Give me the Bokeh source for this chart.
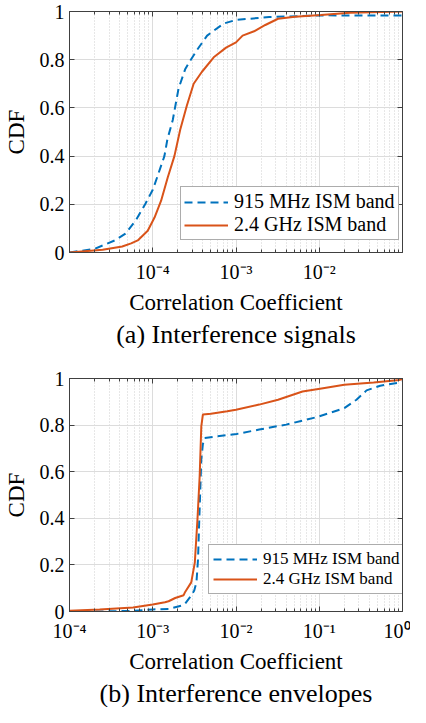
from bokeh.plotting import figure
from bokeh.layouts import column
from bokeh.models import (Range1d, FixedTicker, LinearAxis, LogAxis, Legend,
                          LegendItem, Title, CustomJSTickFormatter)
from bokeh.embed import file_html
from bokeh.resources import INLINE

# ---------------- data: (a) interference signals ----------------
sig_x_915 = [1e-5, 2.0e-5, 3.5e-5, 4.7e-5, 6.3e-5, 8.1e-5, 1.0e-4, 1.15e-4, 1.38e-4,
             1.5e-4, 1.74e-4, 2.04e-4, 2.45e-4, 2.75e-4, 3.4e-4, 4.5e-4, 7.1e-4,
             1.0e-3, 2.5e-3, 1.15e-2, 1e-1]
sig_cdf_915 = [0.0, 0.015, 0.05, 0.078, 0.135, 0.20, 0.26, 0.32, 0.40,
               0.47, 0.55, 0.68, 0.76, 0.79, 0.84, 0.90, 0.95,
               0.965, 0.977, 0.984, 0.983]
sig_x_24 = [1e-5, 2.5e-5, 4.3e-5, 5.5e-5, 6.6e-5, 8.7e-5, 1.05e-4, 1.26e-4, 1.51e-4,
            1.82e-4, 2.14e-4, 2.57e-4, 3.1e-4, 3.9e-4, 5.4e-4, 7.6e-4, 1.0e-3,
            1.2e-3, 1.65e-3, 2.25e-3, 3.2e-3, 5.1e-3, 1.05e-2, 2.35e-2, 1e-1]
sig_cdf_24 = [0.0, 0.011, 0.025, 0.038, 0.05, 0.09, 0.145, 0.215, 0.31,
              0.40, 0.51, 0.61, 0.70, 0.75, 0.81, 0.85, 0.872,
              0.90, 0.918, 0.944, 0.97, 0.978, 0.985, 0.995, 1.0]

# ---------------- data: (b) interference envelopes ----------------
env_x_915 = [1e-4, 2.3e-4, 5.8e-4, 1.0e-3, 1.55e-3, 2.25e-3, 2.45e-3, 2.9e-3, 3.15e-3,
             3.35e-3, 3.5e-3, 3.6e-3, 3.83e-3, 4.0e-3, 4.2e-3, 6.0e-3, 1.02e-2,
             1.9e-2, 4.0e-2, 9.5e-2, 2.0e-1, 2.8e-1, 3.7e-1, 5.4e-1, 1.0]
env_cdf_915 = [0.0, 0.0, 0.003, 0.009, 0.011, 0.026, 0.034, 0.068, 0.09,
               0.125, 0.226, 0.367, 0.652, 0.718, 0.745, 0.752, 0.762,
               0.781, 0.802, 0.835, 0.873, 0.909, 0.949, 0.969, 0.984]
env_x_24 = [1e-4, 2.3e-4, 5.8e-4, 1.0e-3, 1.4e-3, 1.55e-3, 1.86e-3, 2.35e-3, 2.45e-3,
            2.9e-3, 3.2e-3, 3.45e-3, 3.66e-3, 3.83e-3, 4.0e-3, 5.0e-3, 7.85e-3,
            1.0e-2, 1.9e-2, 3.2e-2, 6.3e-2, 1.02e-1, 2.0e-1, 4.5e-1, 9.2e-1, 1.0]
env_cdf_24 = [0.003, 0.009, 0.017, 0.03, 0.04, 0.044, 0.058, 0.07, 0.084,
              0.125, 0.21, 0.40, 0.58, 0.795, 0.845, 0.849, 0.859,
              0.866, 0.888, 0.909, 0.944, 0.956, 0.973, 0.983, 0.994, 0.997]

# ---------------- ticks ----------------
xticks_a = [1e-4, 1e-3, 1e-2]
xlabels_a = ["10\u207b\u2074", "10\u207b\u00b3", "10\u207b\u00b2"]
xticks_b = [1e-4, 1e-3, 1e-2, 1e-1, 1e0]
xlabels_b = ["10\u207b\u2074", "10\u207b\u00b3", "10\u207b\u00b2", "10\u207b\u00b9", "10\u2070"]
yticks = [0, 0.2, 0.4, 0.6, 0.8, 1]
ylabels = ["0", "0.2", "0.4", "0.6", "0.8", "1"]

BLUE = "#0072BD"
ORANGE = "#D95319"
AX = "#404040"
FONT = "Liberation Serif"


def minor_list(lo_exp, hi_exp):
    return [m * 10.0 ** e for e in range(lo_exp, hi_exp) for m in range(2, 10)]


def make_panel(xr, xticks, xlabels, minors, x915, c915, x24, c24, caption,
               height, top_border, legend_loc, legend_font, legend_pad):
    p = figure(width=410, height=height, x_axis_type="log",
               x_range=Range1d(*xr), y_range=Range1d(0, 1),
               output_backend="svg", toolbar_location=None,
               min_border_left=62, min_border_right=8, min_border_top=top_border,
               min_border_bottom=0, background_fill_color="white",
               border_fill_color="white")
    p.outline_line_color = AX
    p.outline_line_width = 1

    xt = FixedTicker(ticks=xticks, minor_ticks=minors)
    yt = FixedTicker(ticks=yticks, minor_ticks=[])
    xfmt = CustomJSTickFormatter(args=dict(tvals=xticks, tlabels=xlabels), code="""
        for (let i = 0; i < tvals.length; i++) {
            if (Math.abs(Math.log10(tvals[i]) - Math.log10(tick)) < 1e-6) return tlabels[i];
        }
        return '';""")
    yfmt = CustomJSTickFormatter(args=dict(tvals=yticks, tlabels=ylabels), code="""
        for (let i = 0; i < tvals.length; i++) {
            if (Math.abs(tvals[i] - tick) < 1e-9) return tlabels[i];
        }
        return '';""")

    xa = p.xaxis[0]
    xa.ticker = xt
    xa.formatter = xfmt
    ya = p.yaxis[0]
    ya.ticker = yt
    ya.formatter = yfmt
    for a in (xa, ya):
        a.major_tick_in = 5
        a.major_tick_out = 0
        a.minor_tick_in = 3
        a.minor_tick_out = 0
        a.axis_line_color = AX
        a.major_tick_line_color = AX
        a.minor_tick_line_color = AX
        a.major_label_text_font = FONT
        a.major_label_text_font_size = "20px"
        a.major_label_text_color = "black"
        a.major_label_text_line_height = 1.0
        a.axis_label_text_font = FONT
        a.axis_label_text_font_size = "23px"
        a.axis_label_text_font_style = "normal"
        a.axis_label_text_color = "black"
        a.axis_label_text_line_height = 1.0
    xa.major_label_standoff = 8
    xa.axis_label = "Correlation Coefficient"
    xa.axis_label_standoff = 4
    ya.major_label_standoff = 5
    ya.axis_label = "CDF"
    ya.axis_label_standoff = 8

    empty = CustomJSTickFormatter(code="return '';")
    top = LogAxis(ticker=xt, formatter=empty, major_tick_in=5, major_tick_out=0,
                  minor_tick_in=3, minor_tick_out=0, major_label_standoff=0,
                  axis_line_color=AX, major_tick_line_color=AX,
                  minor_tick_line_color=AX, major_label_text_font_size="0px")
    right = LinearAxis(ticker=yt, formatter=empty, major_tick_in=5, major_tick_out=0,
                       minor_tick_in=0, minor_tick_out=0, major_label_standoff=0,
                       axis_line_color=AX, major_tick_line_color=AX,
                       major_label_text_font_size="0px")
    p.add_layout(top, "above")
    p.add_layout(right, "right")

    p.xgrid.grid_line_color = "#dcdcdc"
    p.xgrid.grid_line_width = 1
    p.xgrid.minor_grid_line_color = "#cfcfcf"
    p.xgrid.minor_grid_line_dash = "1 2"
    p.ygrid.grid_line_color = "#dcdcdc"
    p.ygrid.grid_line_width = 1

    r1 = p.line(x915, c915, line_color=BLUE, line_width=2, line_dash="8 5")
    r2 = p.line(x24, c24, line_color=ORANGE, line_width=2)

    leg = Legend(items=[LegendItem(label="915 MHz ISM band", renderers=[r1]),
                        LegendItem(label="2.4 GHz ISM band", renderers=[r2])],
                 location=legend_loc, label_text_font=FONT,
                 label_text_font_size=legend_font, label_text_color="black",
                 label_text_line_height=1.0,
                 border_line_color="#595959", border_line_width=1,
                 background_fill_color="white", background_fill_alpha=1,
                 padding=legend_pad, spacing=0, margin=0, glyph_width=44,
                 glyph_height=16, label_height=16, label_standoff=6)
    p.add_layout(leg, "center")

    p.add_layout(Title(text=caption, align="center", text_font=FONT,
                       text_font_size="26px", text_font_style="normal",
                       text_color="black", text_line_height=1.0,
                       offset=-10, standoff=0), "below")
    return p


pa = make_panel((1e-5, 1e-1), xticks_a, xlabels_a, minor_list(-5, -1),
                sig_x_915, sig_cdf_915, sig_x_24, sig_cdf_24,
                "(a) Interference signals", 348, 11, (111, 12), "20px", 3)
pb = make_panel((1e-4, 1e0), xticks_b, xlabels_b, minor_list(-4, 0),
                env_x_915, env_cdf_915, env_x_24, env_cdf_24,
                "(b) Interference envelopes", 359, 30, (139, 17), "17px", 4)

layout = column(pa, pb)
open("out.html", "w").write(file_html(layout, INLINE))
